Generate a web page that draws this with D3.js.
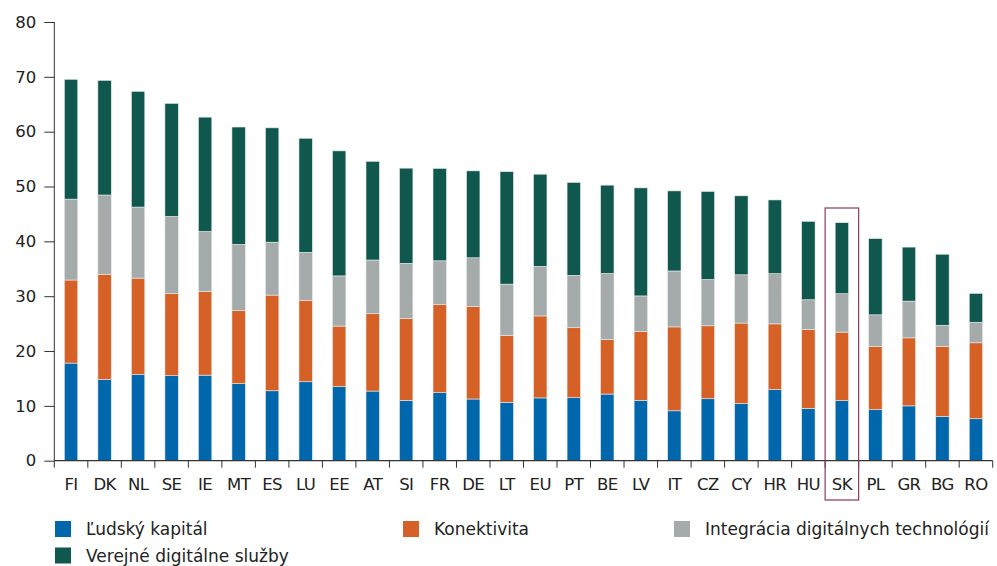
<!DOCTYPE html>
<html><head><meta charset="utf-8">
<script src="https://cdn.jsdelivr.net/npm/d3@7"></script>
<style>body{margin:0;background:#fff}svg{display:block;font-family:"DejaVu Sans",sans-serif}</style>
</head><body><svg id="c" width="997" height="566"></svg>
<script>
const categories = ["FI","DK","NL","SE","IE","MT","ES","LU","EE","AT","SI","FR","DE","LT","EU","PT","BE","LV","IT","CZ","CY","HR","HU","SK","PL","GR","BG","RO"];
const ludskyKapital = [17.8,14.8,15.7,15.5,15.6,14.05,12.75,14.4,13.5,12.7,11.0,12.4,11.25,10.65,11.45,11.5,12.15,11.0,9.1,11.3,10.4,12.95,9.55,10.95,9.3,10.0,8.05,7.65];
const konektivita = [15.15,19.2,17.6,14.95,15.3,13.3,17.45,14.8,11.05,14.1,14.95,16.05,16.85,12.2,14.95,12.75,9.95,12.6,15.3,13.3,14.7,12.0,14.4,12.5,11.5,12.4,12.75,13.85];
const integracia = [14.75,14.45,12.95,14.1,10.9,12.1,9.65,8.8,9.15,9.8,10.05,8.0,8.9,9.35,9.05,9.55,12.05,6.45,10.2,8.45,8.8,9.15,5.4,7.0,5.8,6.7,3.9,3.75];
const verejneSluzby = [21.85,20.9,21.1,20.6,20.85,21.4,20.85,20.8,22.8,18.0,17.35,16.85,15.85,20.5,16.8,16.95,16.1,19.7,14.6,16.05,14.4,13.45,14.3,12.95,13.9,9.85,12.95,5.25];
const seriesNames = ["Ľudský kapitál","Konektivita","Integrácia digitálnych technológií","Verejné digitálne služby"];
const seriesColors = ["#0067AC","#D66127","#A5AAAB","#10574D"];
const yTicks = [0,10,20,30,40,50,60,70,80];
const highlight = "SK";

const svg = d3.select("#c");
const x = d3.scaleBand().domain(categories).range([54.3, 992.7]).paddingInner(0.6).paddingOuter(0.3);
const y = d3.scaleLinear().domain([0,80]).range([460.7, 22]);

const rows = categories.map((c,i)=>({cat:c, s0:ludskyKapital[i], s1:konektivita[i], s2:integracia[i], s3:verejneSluzby[i]}));
const stack = d3.stack().keys(["s0","s1","s2","s3"])(rows);

svg.append("g").selectAll("g").data(stack).join("g")
  .attr("fill",(d,i)=>seriesColors[i])
  .selectAll("rect").data(d=>d).join("rect")
  .attr("x",d=>x(d.data.cat)).attr("width",x.bandwidth())
  .attr("y",d=>y(d[1])).attr("height",d=>y(d[0])-y(d[1]))
  .attr("stroke","#e8ecec").attr("stroke-width",0.6);

// y axis
const ya = svg.append("g").attr("transform","translate(54.3,0)")
  .call(d3.axisLeft(y).tickValues(yTicks).tickSize(10).tickPadding(8));
ya.select(".domain").attr("stroke","#333").attr("d","M0,"+y(80)+"V"+y(0));
ya.selectAll(".tick line").attr("stroke","#333");
ya.selectAll("text").attr("font-size",16.5).attr("fill","#222").attr("font-family","'DejaVu Sans',sans-serif");

// x axis
const step = x.step();
const xa = svg.append("g").attr("transform","translate(0,"+y(0)+")");
xa.append("line").attr("x1",54.3).attr("x2",992.7).attr("stroke","#333").attr("stroke-width",1.2);
const bounds = d3.range(categories.length+1).map(i=>54.3+i*(992.7-54.3)/categories.length);
xa.selectAll("line.t").data(bounds).join("line").attr("class","t")
  .attr("x1",d=>d).attr("x2",d=>d).attr("y1",0).attr("y2",7).attr("stroke","#333");
xa.selectAll("text").data(categories).join("text")
  .attr("x",d=>x(d)+x.bandwidth()/2).attr("y",29)
  .attr("text-anchor","middle").attr("font-size",16.5).attr("fill","#222")
  .attr("letter-spacing","-0.6").text(d=>d);

// highlight box
const hx = x(highlight)+x.bandwidth()/2;
svg.append("rect").attr("x",hx-step/2).attr("y",208).attr("width",step).attr("height",292)
  .attr("fill","none").attr("stroke","#8C3A5E").attr("stroke-width",1.2);

// legend
const legendPos = [[55,529],[403,529],[674,529],[55,555.5]];
const lg = svg.append("g").selectAll("g").data(seriesNames).join("g")
  .attr("transform",(d,i)=>"translate("+legendPos[i][0]+","+legendPos[i][1]+")");
lg.append("rect").attr("x",0).attr("y",-8).attr("width",16).attr("height",16).attr("fill",(d,i)=>seriesColors[i]);
lg.append("text").attr("x",31).attr("y",6.3).attr("font-size",17).attr("fill","#222").text(d=>d);
</script></body></html>
